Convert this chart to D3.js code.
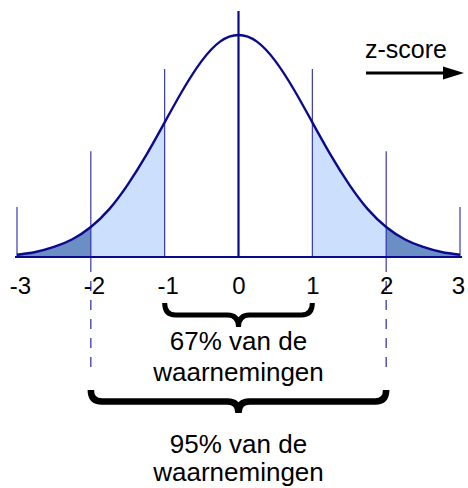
<!DOCTYPE html>
<html>
<head>
<meta charset="utf-8">
<script src="https://cdn.jsdelivr.net/npm/d3@7"></script>
<style>
  body { margin: 0; background: #fff; }
  text { font-family: "Liberation Sans", Arial, sans-serif; fill: #000; }
</style>
</head>
<body>
<div id="chart"></div>
<script>
var width = 468,
    height = 488;

// z-scores and curve height
var zValues = [-3, -2.75, -2.5, -2.25, -2, -1.75, -1.5, -1.25, -1, -0.75, -0.5, -0.25, 0,
               0.25, 0.5, 0.75, 1, 1.25, 1.5, 1.75, 2, 2.25, 2.5, 2.75, 3];
var density = [0.004, 0.009, 0.018, 0.032, 0.054, 0.086, 0.130, 0.183, 0.242, 0.301, 0.352, 0.387, 0.399,
               0.387, 0.352, 0.301, 0.242, 0.183, 0.130, 0.086, 0.054, 0.032, 0.018, 0.009, 0.004];

var tickValues = [-3, -2, -1, 0, 1, 2, 3];
// height of the vertical marker lines (same units as density)
var markerZ = [-3, -2, -1, 0, 1, 2, 3];
var markerTop = [0.09, 0.19, 0.338, 0.442, 0.338, 0.19, 0.09];

// shaded bands
var bands = [
  {from: -3, to: -2, color: "#6b8fc4"},
  {from: -2, to: -1, color: "#cce0fd"},
  {from: 1, to: 2, color: "#cce0fd"},
  {from: 2, to: 3, color: "#6b8fc4"}
];

var braces = [
  {from: -1, to: 1, lines: ["67% van de", "waarnemingen"]},
  {from: -2, to: 2, lines: ["95% van de", "waarnemingen"]}
];

var points = zValues.map(function(z, i) { return {z: z, d: density[i]}; });

var x = d3.scaleLinear().domain([-3, 3]).range([17, 460]);
var y = d3.scaleLinear().domain([0, 0.4]).range([257, 34.4]);

var svg = d3.select("#chart")
    .append("svg")
    .attr("width", width)
    .attr("height", height);

/* shaded areas under the curve */
var area = d3.area()
    .x(function(d) { return x(d.z); })
    .y0(y(0))
    .y1(function(d) { return y(d.d); })
    .curve(d3.curveNatural);

bands.forEach(function(b) {
  svg.append("path")
      .datum(points.filter(function(p) { return p.z >= b.from && p.z <= b.to; }))
      .attr("d", area)
      .style("fill", b.color);
});

/* vertical marker lines */
svg.selectAll(".marker")
    .data(markerZ)
    .enter().append("line")
    .attr("class", "marker")
    .attr("x1", function(d) { return x(d); })
    .attr("x2", function(d) { return x(d); })
    .attr("y1", function(d, i) { return y(markerTop[i]); })
    .attr("y2", function(d) { return Math.abs(d) == 2 ? 272 : y(0); })
    .style("stroke", function(d) { return d == 0 ? "#0a0a8c" : "#2828a8"; })
    .style("stroke-width", function(d) { return d == 0 ? 2.2 : 1.1; });

/* dashed guides below -2 and 2 */
svg.selectAll(".guide")
    .data([-2, 2])
    .enter().append("line")
    .attr("class", "guide")
    .attr("x1", function(d) { return x(d); })
    .attr("x2", function(d) { return x(d); })
    .attr("y1", 272)
    .attr("y2", 373)
    .style("stroke", "#2828a8")
    .style("stroke-width", 1.2)
    .style("stroke-dasharray", "10,9")
    .style("stroke-dashoffset", -9);

/* baseline */
svg.append("line")
    .attr("x1", x(-3) - 2)
    .attr("x2", x(3) + 2)
    .attr("y1", y(0))
    .attr("y2", y(0))
    .style("stroke", "#0a0a8c")
    .style("stroke-width", 2);

/* bell curve */
var line = d3.line()
    .x(function(d) { return x(d.z); })
    .y(function(d) { return y(d.d); })
    .curve(d3.curveNatural);

svg.append("path")
    .datum(points)
    .attr("d", line)
    .style("fill", "none")
    .style("stroke", "#0a0a8c")
    .style("stroke-width", 2.4);

/* tick labels */
var axis = svg.append("g")
    .attr("transform", "translate(0," + y(0) + ")")
    .call(d3.axisBottom(x).tickValues(tickValues).tickSize(0).tickPadding(20)
      .tickFormat(function(d) { return d < 0 ? "-" + Math.abs(d) : d; }));
axis.select(".domain").remove();
axis.selectAll("text")
    .attr("dx", function(d) { return d < 0 ? 3 : (d == 3 ? -2 : 0); })
    .style("font-size", "24px")
    .style("font-family", "'Liberation Sans', Arial, sans-serif")
    .style("fill", "#000");

/* braces */
function bracePath(x0, x1, y0, y2) {
  var xm = (x0 + x1) / 2,
      ya = y0 + (y2 - y0) * 0.5,
      r = 11;
  return "M" + x0 + "," + y0 +
    " Q" + x0 + "," + ya + " " + (x0 + r) + "," + ya +
    " L" + (xm - r) + "," + ya +
    " Q" + xm + "," + ya + " " + xm + "," + y2 +
    " Q" + xm + "," + ya + " " + (xm + r) + "," + ya +
    " L" + (x1 - r) + "," + ya +
    " Q" + x1 + "," + ya + " " + x1 + "," + y0;
}

var braceTop = [303, 390],
    braceTip = [327, 413],
    braceWidth = [5, 6.5],
    textBase = [[350, 381], [453, 481]];

braces.forEach(function(b, i) {
  svg.append("path")
      .attr("d", bracePath(x(b.from), x(b.to), braceTop[i], braceTip[i]))
      .style("fill", "none")
      .style("stroke", "#000")
      .style("stroke-width", braceWidth[i])
      .style("stroke-linejoin", "miter");
  b.lines.forEach(function(t, j) {
    svg.append("text")
        .attr("x", x(0))
        .attr("y", textBase[i][j])
        .attr("text-anchor", "middle")
        .style("font-size", "26px")
        .text(t);
  });
});

/* z-score arrow */
svg.append("text")
    .attr("x", 365)
    .attr("y", 58)
    .style("font-size", "25px")
    .text("z-score");

svg.append("line")
    .attr("x1", 366)
    .attr("x2", 446)
    .attr("y1", 73)
    .attr("y2", 73)
    .style("stroke", "#000")
    .style("stroke-width", 3);

svg.append("path")
    .attr("d", "M443,66.5 L464,73 L443,79.5 Z")
    .style("fill", "#000");
</script>
</body>
</html>
